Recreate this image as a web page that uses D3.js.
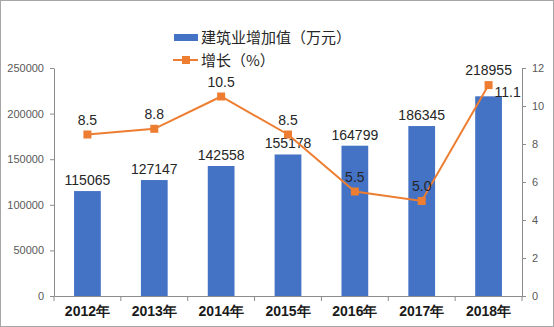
<!DOCTYPE html>
<html><head><meta charset="utf-8">
<script src="https://cdn.jsdelivr.net/npm/d3@7"></script>
<style>body{margin:0;background:#fff}svg{display:block}</style>
</head><body>
<script>
const categories = ["2012年","2013年","2014年","2015年","2016年","2017年","2018年"];
const valueAdded = [115065,127147,142558,155178,164799,186345,218955];
const growth = [8.5,8.8,10.5,8.5,5.5,5.0,11.1];
const leftTicks = [0,50000,100000,150000,200000,250000];
const rightTicks = [0,2,4,6,8,10,12];
const seriesNames = ["建筑业增加值（万元）","增长（%）"];

const W=554,H=327, L=54, R=522, T=68, B=296;
const svg=d3.select("body").append("svg").attr("width",W).attr("height",H);
svg.append("rect").attr("x",0.5).attr("y",0.5).attr("width",W-1).attr("height",H-1).attr("fill","#fff").attr("stroke","#a6a6a6");
const font="'Noto Sans CJK SC','Noto Sans',sans-serif";
const x=d3.scaleBand().domain(categories).range([L,R]);
const yL=d3.scaleLinear().domain([0,250000]).range([B,T]);
const yR=d3.scaleLinear().domain([0,12]).range([B,T]);

// axes
const ax=svg.append("g").attr("font-family",font);
const gl=ax.append("g").attr("transform",`translate(${L},0)`).call(d3.axisLeft(yL).tickValues(leftTicks).tickSize(4).tickSizeOuter(0).tickPadding(6).tickFormat(d3.format("d")));
const gr=ax.append("g").attr("transform",`translate(${R},0)`).call(d3.axisRight(yR).tickValues(rightTicks).tickSize(4).tickSizeOuter(0).tickPadding(6));
[gl,gr].forEach(g=>{g.selectAll("path,line").attr("stroke","#8c8c8c");g.selectAll("text").attr("fill","#595959").attr("font-size",11).attr("font-family","'Liberation Sans',Arial,sans-serif");});
const gb=ax.append("g").attr("transform",`translate(0,${B})`).call(d3.axisBottom(x).tickSize(0).tickPadding(10));
gb.select("path").attr("stroke","#8c8c8c");
gb.selectAll("text").attr("fill","#1a1a1a").attr("font-size",14).attr("font-weight","bold");
const bounds=categories.map(c=>x(c)).concat([R]);
ax.append("g").selectAll("line").data(bounds).join("line")
 .attr("x1",d=>d).attr("x2",d=>d).attr("y1",B).attr("y2",B+5).attr("stroke","#8c8c8c");

// bars
const bw=x.bandwidth()*0.4;
svg.append("g").selectAll("rect").data(valueAdded).join("rect")
 .attr("x",(d,i)=>x(categories[i])+x.bandwidth()/2-bw/2).attr("width",bw)
 .attr("y",d=>yL(d)).attr("height",d=>B-yL(d)).attr("fill","#4472C4");
svg.append("g").selectAll("text").data(valueAdded).join("text")
 .attr("x",(d,i)=>x(categories[i])+x.bandwidth()/2).attr("y",(d,i)=>i===6?yL(d)-21:yL(d)-6)
 .attr("text-anchor","middle").attr("font-size",14).attr("fill","#262626")
 .attr("font-family","'Liberation Sans',Arial,sans-serif").text(d=>d);

// line
const cx=i=>x(categories[i])+x.bandwidth()/2;
const line=d3.line().x((d,i)=>cx(i)).y(d=>yR(d));
svg.append("path").datum(growth).attr("d",line).attr("fill","none").attr("stroke","#ED7D31").attr("stroke-width",2);
svg.append("g").selectAll("rect").data(growth).join("rect")
 .attr("x",(d,i)=>cx(i)-4).attr("y",d=>yR(d)-4).attr("width",8).attr("height",8).attr("fill","#ED7D31");
svg.append("g").selectAll("text").data(growth).join("text")
 .attr("x",(d,i)=>i===6?cx(i)+6:cx(i)).attr("y",(d,i)=>i===6?yR(d)+12:yR(d)-10)
 .attr("text-anchor",(d,i)=>i===6?"start":"middle").attr("font-size",14).attr("fill","#262626")
 .attr("font-family","'Liberation Sans',Arial,sans-serif").text(d=>d.toFixed(1));

// legend
const lg=svg.append("g").attr("font-family",font).attr("font-size",15).attr("fill","#262626");
lg.append("rect").attr("x",174).attr("y",34).attr("width",24).attr("height",7).attr("fill","#4472C4");
lg.append("text").attr("x",201).attr("y",43).text(seriesNames[0]);
lg.append("line").attr("x1",173).attr("x2",198).attr("y1",60).attr("y2",60).attr("stroke","#ED7D31").attr("stroke-width",2);
lg.append("rect").attr("x",182).attr("y",56).attr("width",8).attr("height",8).attr("fill","#ED7D31");
lg.append("text").attr("x",201).attr("y",66).text(seriesNames[1]);
</script>
</body></html>
